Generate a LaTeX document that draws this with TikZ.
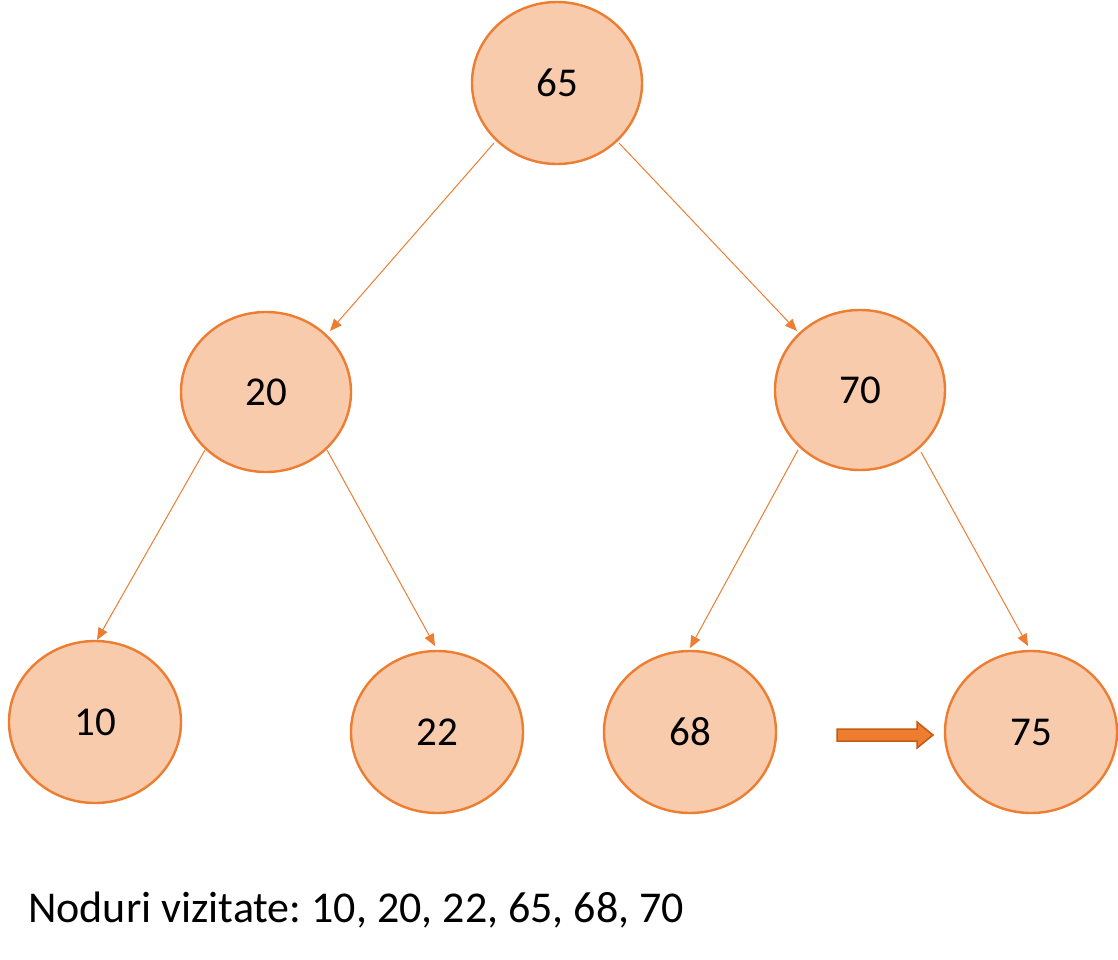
\documentclass[tikz,border=0pt]{standalone}
\usepackage{fontspec}
\setmainfont{Carlito}
\usetikzlibrary{shapes.geometric,arrows.meta}
\definecolor{fillc}{HTML}{F8CBAD}
\definecolor{linec}{HTML}{ED7D31}
\definecolor{darkc}{HTML}{C55A11}
\frenchspacing
\begin{document}
\begin{tikzpicture}[x=1pt,y=-1pt,
  nd/.style={ellipse,draw=linec,fill=fillc,line width=2.4pt,minimum width=170pt,minimum height=162pt,inner sep=0pt,font=\fontsize{41}{48}\selectfont},
  ed/.style={draw=linec,line width=1pt,-{Triangle[length=12pt,width=10pt]}}]
\useasboundingbox (0,0) rectangle (1118,960);
\node[nd] (a) at (557,83) {65};
\node[nd,minimum height=160pt] (b) at (266,392) {20};
\node[nd,minimum height=160pt] (c) at (860,390) {70};
\node[nd,minimum width=172pt] (d) at (95,722) {10};
\node[nd,minimum width=172pt] (e) at (437,732) {22};
\node[nd,minimum width=172pt] (f) at (690,732) {68};
\node[nd,minimum width=172pt] (g) at (1031,732) {75};
\coordinate (a1) at (494,143); \coordinate (b1) at (330,331);
\coordinate (a2) at (619,143); \coordinate (c1) at (797,331);
\coordinate (b2) at (205,450); \coordinate (d1) at (97,640);
\coordinate (b3) at (327,450); \coordinate (e1) at (435,646);
\coordinate (c2) at (798,450); \coordinate (f1) at (690,648);
\coordinate (c3) at (921,452); \coordinate (g1) at (1028,646);
\draw[ed] (a1) -- (b1);
\draw[ed] (a2) -- (c1);
\draw[ed] (b2) -- (d1);
\draw[ed] (b3) -- (e1);
\draw[ed] (c2) -- (f1);
\draw[ed] (c3) -- (g1);
\draw[darkc,line width=1.5pt,fill=linec,line join=miter]
  (837,729) -- (917,729) -- (917,722) -- (933,735) -- (917,748) -- (917,741) -- (837,741) -- cycle;
\node[anchor=base west,inner sep=0pt,font=\fontsize{44}{50}\selectfont] (txt) at (28,922) {Noduri vizitate: 10, 20, 22, 65, 68, 70};
\end{tikzpicture}
\end{document}
